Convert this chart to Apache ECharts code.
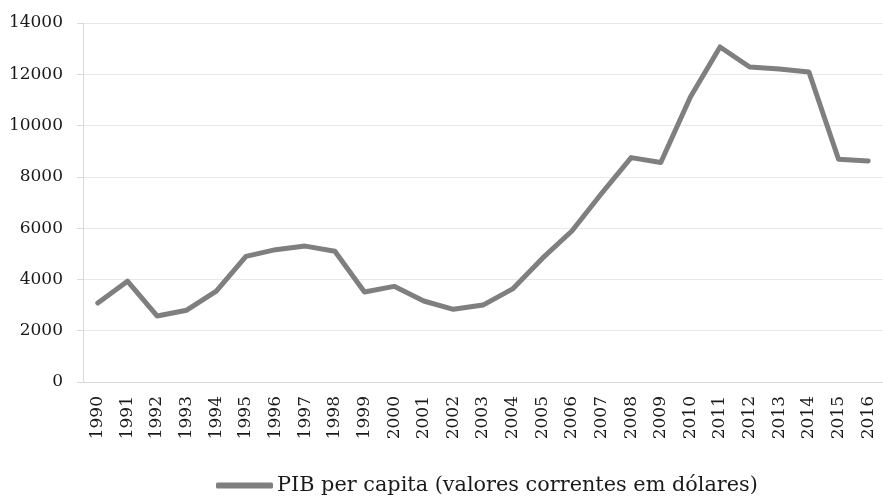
<!DOCTYPE html>
<html>
<head>
<meta charset="utf-8">
<script src="https://cdn.jsdelivr.net/npm/echarts@6/dist/echarts.min.js"></script>
<style>
	html, body { margin: 0; padding: 0; background: #fff; }
	#chart { width: 883px; height: 498px; }
</style>
</head>
<body>
<div id="chart"></div>
<script>
// anos e PIB per capita
let anos = ['1990', '1991', '1992', '1993', '1994', '1995', '1996', '1997', '1998', '1999',
	'2000', '2001', '2002', '2003', '2004', '2005', '2006', '2007', '2008', '2009',
	'2010', '2011', '2012', '2013', '2014', '2015', '2016']
let pib = [3080, 3930, 2575, 2800, 3540, 4900, 5160, 5300, 5100, 3510,
	3730, 3160, 2835, 3000, 3630, 4820, 5890, 7350, 8750, 8560,
	11115, 13065, 12285, 12210, 12090, 8685, 8620]
let serieNome = 'PIB per capita (valores correntes em dólares)'

let fonte = 'DejaVu Serif'
var chart = echarts.init(document.getElementById('chart'));
chart.setOption({
	animation: false,
	textStyle: {
		fontFamily: fonte
	},
	grid: {
		top: 23,
		left: 83,
		right: -6,
		bottom: 116
	},
	legend: {
		top: 470,
		left: 211,
		itemWidth: 57,
		itemHeight: 6,
		itemGap: 4,
		icon: 'roundRect',
		textStyle: {
			fontFamily: fonte,
			fontSize: 20.8,
			color: '#1a1a1a',
			padding: [0, 0, 0, -1]
		},
		data: [serieNome]
	},
	xAxis: {
		type: 'category',
		boundaryGap: true,
		data: anos,
		axisLine: {
			lineStyle: {
				color: '#d9d9d9'
			}
		},
		axisTick: {
			length: 7,
			lineStyle: {
				color: '#d9d9d9'
			}
		},
		axisLabel: {
			rotate: 90,
			interval: 0,
			margin: 14,
			fontSize: 17,
			color: '#1a1a1a'
		}
	},
	yAxis: {
		type: 'value',
		min: 0,
		max: 14000,
		interval: 2000,
		axisLine: {
			show: true,
			lineStyle: {
				color: '#d9d9d9'
			}
		},
		axisTick: {
			show: true,
			length: 6,
			lineStyle: {
				color: '#d9d9d9'
			}
		},
		splitLine: {
			lineStyle: {
				color: '#e8e8e8'
			}
		},
		axisLabel: {
			margin: 20,
			fontSize: 17,
			color: '#1a1a1a',
			formatter: function(v) {
				return String(v) //sem separador de milhar
			}
		}
	},
	series: [{
		name: serieNome,
		type: 'line',
		data: pib,
		symbol: 'none',
		color: '#7f7f7f',
		lineStyle: {
			width: 5,
			color: '#7f7f7f',
			cap: 'round',
			join: 'round'
		}
	}]
})
</script>
</body>
</html>
